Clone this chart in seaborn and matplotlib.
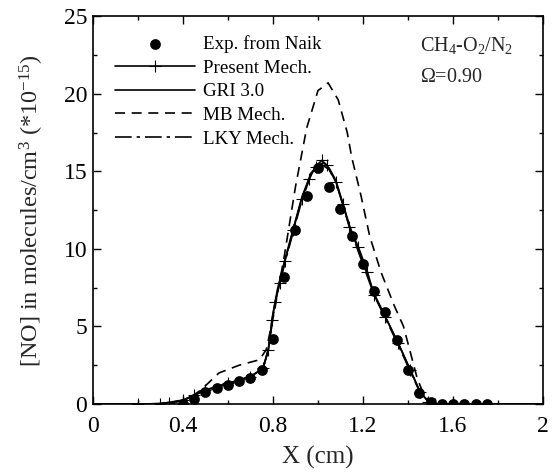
import numpy as np
import pandas as pd
import seaborn as sns
import matplotlib.pyplot as plt

# experimental points (Naik)
exp_x = [0.40, 0.45, 0.50, 0.55, 0.60, 0.65, 0.70, 0.75, 0.80, 0.85, 0.90, 0.95, 1.00, 1.05,
         1.10, 1.15, 1.20, 1.25, 1.30, 1.35, 1.40, 1.45, 1.50, 1.55, 1.60, 1.65, 1.70, 1.75]
exp_y = [0.0, 0.3, 0.75, 1.0, 1.2, 1.5, 1.7, 2.2, 4.2, 8.2, 11.2, 13.4, 15.2, 14.0,
         12.6, 10.8, 9.0, 7.3, 5.9, 4.1, 2.2, 0.7, 0.1, 0.0, 0.0, 0.0, 0.0, 0.0]

# Present Mech.
pres_x = [0.0, 0.20, 0.30, 0.34, 0.40, 0.45, 0.50, 0.60, 0.70, 0.756, 0.78, 0.795, 0.81, 0.83,
          0.853, 0.89, 0.927, 0.96, 0.99, 1.016, 1.04, 1.08, 1.11, 1.14, 1.18, 1.22, 1.25,
          1.30, 1.357, 1.41, 1.453, 1.49, 1.52, 2.0]
pres_y = [0.0, 0.0, 0.02, 0.05, 0.25, 0.55, 0.9, 1.33, 1.76, 2.3, 3.5, 5.4, 6.6, 7.8,
          9.2, 11.2, 13.2, 14.5, 15.3, 15.7, 15.4, 14.3, 12.9, 11.4, 10.1, 8.5, 7.0,
          5.6, 3.9, 2.2, 0.8, 0.15, 0.0, 0.0]

# GRI 3.0
gri_x = [0.0, 0.20, 0.30, 0.40, 0.50, 0.60, 0.70, 0.756, 0.78, 0.80, 0.82, 0.853, 0.89, 0.93,
         0.97, 1.00, 1.025, 1.05, 1.08, 1.14, 1.20, 1.25, 1.30, 1.357, 1.41, 1.453, 1.49, 1.52, 2.0]
gri_y = [0.0, 0.0, 0.02, 0.25, 0.9, 1.33, 1.76, 2.3, 3.6, 5.8, 7.4, 9.3, 11.3, 13.4,
         14.9, 15.4, 15.55, 15.2, 14.4, 11.5, 9.1, 7.1, 5.6, 3.9, 2.2, 0.8, 0.15, 0.0, 0.0]

# MB Mech.
mb_x = [0.0, 0.25, 0.35, 0.42, 0.48, 0.56, 0.65, 0.74, 0.77, 0.80, 0.85, 0.90, 0.95, 1.00,
        1.045, 1.09, 1.13, 1.15, 1.19, 1.23, 1.28, 1.31, 1.34, 1.38, 1.42, 1.44, 1.47, 1.50, 1.55, 2.0]
mb_y = [0.0, 0.0, 0.05, 0.3, 0.9, 2.0, 2.5, 2.85, 3.5, 5.5, 9.5, 14.0, 17.8, 20.2,
        20.7, 19.6, 17.5, 15.9, 13.5, 10.8, 8.5, 7.4, 6.3, 5.0, 2.8, 1.7, 0.6, 0.1, 0.0, 0.0]

# LKY Mech.
lky_x = [0.0, 0.20, 0.30, 0.40, 0.50, 0.60, 0.70, 0.756, 0.78, 0.80, 0.82, 0.853, 0.89, 0.93,
         0.97, 1.00, 1.02, 1.05, 1.08, 1.14, 1.20, 1.25, 1.30, 1.357, 1.41, 1.453, 1.49, 1.52, 2.0]
lky_y = [0.0, 0.0, 0.02, 0.22, 0.85, 1.3, 1.75, 2.3, 3.5, 5.6, 7.2, 9.1, 11.1, 13.2,
         14.8, 15.3, 15.4, 15.1, 14.3, 11.4, 9.0, 7.0, 5.5, 3.8, 2.1, 0.75, 0.12, 0.0, 0.0]

sns.set_theme(style="ticks")
plt.rcParams['font.family'] = ['Liberation Serif', 'DejaVu Serif']
plt.rcParams['mathtext.fontset'] = 'custom'
plt.rcParams['mathtext.rm'] = 'Liberation Serif'
plt.rcParams['mathtext.it'] = 'Liberation Serif:italic'

fig = plt.figure(figsize=(5.53, 4.75), dpi=100)
ax = fig.add_axes([0.168, 0.1495, 0.814, 0.8165])

lw = 1.2
sns.scatterplot(x=exp_x, y=exp_y, ax=ax, color='black', s=60, marker='o', edgecolor='black',
                linewidth=0, label='Exp. from Naik', zorder=5)
sns.lineplot(x=pres_x, y=pres_y, ax=ax, color='black', lw=lw, marker='+', markersize=8,
             markeredgewidth=0.8, markeredgecolor='black', sort=False, estimator=None,
             label='Present Mech.')
sns.lineplot(x=gri_x, y=gri_y, ax=ax, color='black', lw=lw, sort=False, estimator=None,
             label='GRI 3.0')
sns.lineplot(x=mb_x, y=mb_y, ax=ax, color='black', lw=lw, linestyle=(0, (6, 4)),
             sort=False, estimator=None, label='MB Mech.')
sns.lineplot(x=lky_x, y=lky_y, ax=ax, color='black', lw=lw, linestyle=(0, (10, 3, 2, 3)),
             sort=False, estimator=None, label='LKY Mech.')

ax.set_xlim(0, 2)
ax.set_ylim(0, 25)
ax.set_xticks([0, 0.4, 0.8, 1.2, 1.6, 2])
ax.set_xticklabels(['0', '0.4', '0.8', '1.2', '1.6', '2'])
ax.set_xticks(np.arange(0, 2.01, 0.2), minor=True)
ax.set_yticks([0, 5, 10, 15, 20, 25])
ax.set_yticks(np.arange(0, 25.1, 2.5), minor=True)
ax.tick_params(which='both', direction='in', top=True, right=True, colors='black',
               labelsize=17, width=1.0)
ax.tick_params(which='major', length=6, pad=4)
ax.tick_params(axis='x', which='major', pad=9)
ax.tick_params(which='minor', length=3)
for s in ax.spines.values():
    s.set_linewidth(1.2)
    s.set_color('black')

ax.set_xlabel('X (cm)', fontsize=18, labelpad=6)
ax.set_ylabel(r'[NO] in molecules/cm$^3$ (*10$^{-15}$)', fontsize=17.5, labelpad=13)

ax.text(0.727, 0.925, r'CH$_4$-O$_2$/N$_2$', transform=ax.transAxes, fontsize=14.5,
        va='center', ha='left')
ax.text(0.727, 0.843, r'$\Omega$=0.90', transform=ax.transAxes, fontsize=14.5,
        va='center', ha='left')

leg = ax.legend(loc='upper left', frameon=False, fontsize=13.7, handlelength=4.2,
                handletextpad=0.4, labelspacing=0.33, borderaxespad=0.3,
                bbox_to_anchor=(0.02, 0.985))
for t in leg.get_texts():
    t.set_color('black')

fig.savefig('out.png', dpi=100)
